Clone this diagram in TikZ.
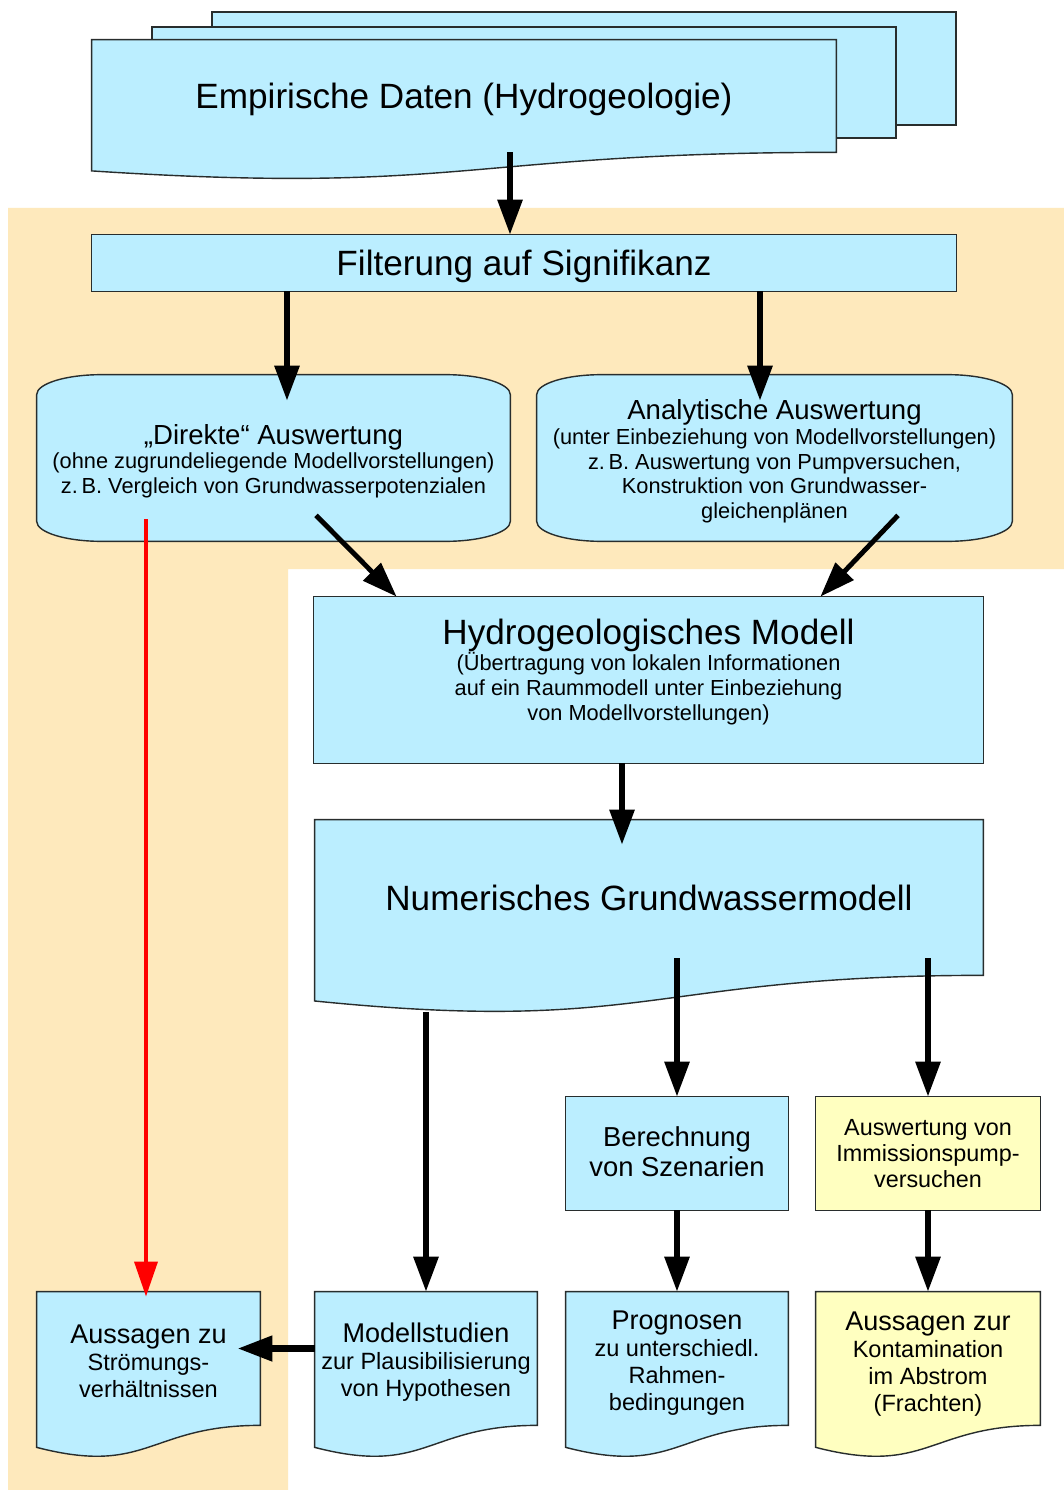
\documentclass[tikz,border=0pt]{standalone}
\usepackage{fontspec}
\setmainfont{Liberation Sans}
\usetikzlibrary{arrows.meta,calc}
\definecolor{boxblue}{RGB}{187,238,255}
\definecolor{boxyellow}{RGB}{255,255,192}
\definecolor{bgorange}{RGB}{254,233,188}
\definecolor{edgecol}{RGB}{40,45,45}
\pgfdeclarelayer{bglayer}\pgfdeclarelayer{shplayer}
\pgfsetlayers{bglayer,shplayer,main}
\newcommand\docshape[2]{\filldraw[#2] (#1.north west) -- (#1.north east) -- (#1.south east) .. controls (#1.south) and ($(#1.north)!1.381!(#1.south)$) .. ($(#1.north west)!1.1646!(#1.south west)$) -- cycle;}
\newcommand\rndshape[2]{\filldraw[#2] ($(#1.north west)+(0,20)$) .. controls ($(#1.north west)+(0,9)$) and ($(#1.north west)+(29,0)$) .. ($(#1.north west)+(65,0)$) -- ($(#1.north east)+(-65,0)$) .. controls ($(#1.north east)+(-29,0)$) and ($(#1.north east)+(0,9)$) .. ($(#1.north east)+(0,20)$) -- ($(#1.south east)+(0,-20)$) .. controls ($(#1.south east)+(0,-9)$) and ($(#1.south east)+(-29,0)$) .. ($(#1.south east)+(-65,0)$) -- ($(#1.south west)+(65,0)$) .. controls ($(#1.south west)+(29,0)$) and ($(#1.south west)+(0,-9)$) .. ($(#1.south west)+(0,-20)$) -- cycle;}
\newcommand\lift[1]{\rule{0pt}{#1}}
\newcommand\drop[1]{\rule[-#1]{0pt}{0pt}}
\begin{document}
\begin{tikzpicture}[x=0.02cm,y=-0.02cm,
  wpx/.style={minimum width=#1*0.02cm},
  hpx/.style={minimum height=#1*0.02cm},
  box/.style={rectangle,draw=none,inner sep=0pt,align=center,text=black},
  shpblue/.style={fill=boxblue,draw=edgecol,line width=0.8pt},
  shpyellow/.style={fill=boxyellow,draw=edgecol,line width=0.8pt},
  arr/.style={line width=3.2pt,-{Triangle[width=13.8pt,length=20pt]}},
  redarr/.style={line width=2.4pt,red,-{Triangle[width=13pt,length=20pt]}},
  bigfont/.style={font=\fontsize{20}{24}\selectfont},
  subfont/.style={font=\fontsize{12.4}{13.9}\selectfont},
  botfont/.style={font=\fontsize{13.4}{15.4}\selectfont}
]
\useasboundingbox (0,0) rectangle (1064,1490);

% nodes
\node[box,bigfont,wpx=744,hpx=112] (emp) at (464,96) {\lift{18.9pt}Empirische Daten (Hydrogeologie)};
\node[box,bigfont,wpx=864,hpx=56] (filt) at (524,263) {\lift{18pt}Filterung auf Signifikanz};
\node[box,subfont,wpx=473,hpx=166] (dir) at (273.5,458)
  {{\fontsize{15.7}{18}\selectfont\lift{14.9pt}„Direkte“ Auswertung}\\
   (ohne zugrundeliegende Modellvorstellungen)\\
   z.\,B. Vergleich von Grundwasserpotenzialen};
\node[box,subfont,wpx=475,hpx=166] (ana) at (774.5,458)
  {{\fontsize{15.7}{18}\selectfont\lift{14.9pt}Analytische Auswertung}\\[0.5pt]
   (unter Einbeziehung von Modellvorstellungen)\\
   z.\,B. Auswertung von Pumpversuchen,\\
   Konstruktion von Grundwasser-\\
   gleichenplänen};
\node[box,font=\fontsize{12.4}{14.2}\selectfont,wpx=669,hpx=150] (hyd) at (648.5,672)
  {{\fontsize{20}{24}\selectfont Hydrogeologisches Modell}\\[-1.2pt]
   (Übertragung von lokalen Informationen\\
   auf ein Raummodell unter Einbeziehung\\
   von Modellvorstellungen)};
\node[box,bigfont,wpx=668,hpx=155] (num) at (649,897.5) {Numerisches Grundwassermodell};
\node[box,font=\fontsize{15.6}{17.1}\selectfont,wpx=222,hpx=113] (ber) at (677,1153.5) {Berechnung\\von Szenarien\drop{2.3pt}};
\node[box,font=\fontsize{13.3}{14.8}\selectfont,wpx=224,hpx=113] (imm) at (928,1153.5) {Auswertung von\\Immissionspump-\\versuchen};
\node[box,botfont,wpx=223,hpx=133] (aus) at (148.5,1358.5)
  {{\fontsize{15.4}{15.4}\selectfont\lift{13.3pt}Aussagen zu}\\Strömungs-\\verhältnissen};
\node[box,botfont,wpx=222,hpx=133] (mod) at (426,1358.5)
  {{\fontsize{15.4}{15.4}\selectfont\lift{15.6pt}Modellstudien}\\zur Plausibilisierung\\von Hypothesen};
\node[box,botfont,wpx=222,hpx=133] (prog) at (677,1358.5)
  {{\fontsize{15.4}{15.4}\selectfont\lift{16.1pt}Prognosen}\\zu unterschiedl.\\Rahmen-\\bedingungen};
\node[box,botfont,wpx=224,hpx=133] (kont) at (928,1358.5)
  {{\fontsize{15.4}{15.4}\selectfont\lift{16.7pt}Aussagen zur}\\Kontamination\\im Abstrom\\(Frachten)};

% background
\begin{pgfonlayer}{bglayer}
  \fill[white] (0,0) rectangle (1064,1490);
  \fill[bgorange] (8,208) -- (1064,208) -- (1064,569) -- (288,569) -- (288,1490) -- (8,1490) -- cycle;
\end{pgfonlayer}

% shapes
\begin{pgfonlayer}{shplayer}
  \filldraw[shpblue] (212,12) rectangle (956,125);
  \filldraw[shpblue] (152,27) rectangle (896,138);
  \docshape{emp}{shpblue}
  \filldraw[shpblue] (filt.north west) rectangle (filt.south east);
  \rndshape{dir}{shpblue}
  \rndshape{ana}{shpblue}
  \filldraw[shpblue] (hyd.north west) rectangle ($(hyd.south east)+(0,16)$);
  \docshape{num}{shpblue}
  \filldraw[shpblue] (ber.north west) rectangle (ber.south east);
  \filldraw[shpyellow] (imm.north west) rectangle (imm.south east);
  \docshape{aus}{shpblue}
  \docshape{mod}{shpblue}
  \docshape{prog}{shpblue}
  \docshape{kont}{shpyellow}
\end{pgfonlayer}

% connectors
\draw[arr] (emp.south -| 510,0) -- (filt.north -| 510,0);
\draw[arr] (filt.south -| 287,0) -- ($(dir.north -| 287,0)+(0,26)$);
\draw[arr] (filt.south -| 760,0) -- ($(ana.north -| 760,0)+(0,26)$);
\draw[arr,line width=2.8pt] ($(dir.south)+(42.5,-26)$) -- ($(hyd.north west)+(83,0)$);
\draw[arr,line width=2.8pt] ($(ana.south)+(123.5,-26)$) -- ($(hyd.north east)+(-163,0)$);
\draw[arr] ($(hyd.south -| 622,0)+(0,16)$) -- ($(num.north -| 622,0)+(0,25)$);
\draw[arr] ($(num.south -| 426,0)+(0,37)$) -- (mod.north);
\draw[arr] ($(num.south -| 677,0)+(0,-17)$) -- (ber.north);
\draw[arr] ($(num.south -| 928,0)+(0,-17)$) -- (imm.north);
\draw[arr] (ber.south) -- (prog.north);
\draw[arr] (imm.south) -- (kont.north);
\draw[arr,line width=4pt] ($(mod.west)+(0,-10)$) -- ($(aus.east)+(-23,-10)$);
\draw[redarr] ($(dir.south -| 146,0)+(0,-22)$) -- ($(aus.north -| 146,0)+(0,5)$);
\end{tikzpicture}
\end{document}
